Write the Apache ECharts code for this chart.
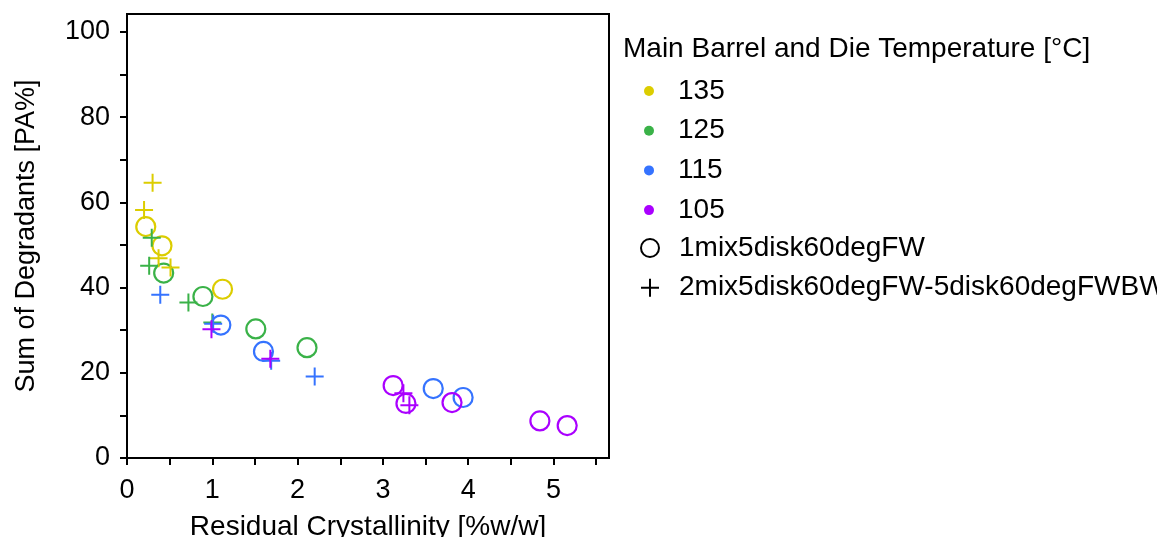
<!DOCTYPE html>
<html>
<head>
<meta charset="utf-8">
<script src="https://cdn.jsdelivr.net/npm/echarts@6/dist/echarts.min.js"></script>
<style>
  html, body { margin: 0; padding: 0; background: #fff; }
  #chart { width: 1157px; height: 537px; }
</style>
</head>
<body>
<div id="chart"></div>
<script>
// Temperature groups (°C) and their colours
const temperatures = ['135', '125', '115', '105'];
const tempColors = ['#dccd00', '#3ab248', '#3573ff', '#aa00ff'];

// Screw configurations
const configNames = ['1mix5disk60degFW', '2mix5disk60degFW-5disk60degFWBW'];

// [Residual Crystallinity %w/w, Sum of Degradants PA%] per temperature, config 1 (open circles)
const circles135 = [[0.22, 54.3], [0.41, 49.8], [1.12, 39.6]];
const circles125 = [[0.43, 43.4], [0.89, 37.9], [1.51, 30.3], [2.11, 25.9]];
const circles115 = [[1.10, 31.2], [1.60, 25.0], [3.59, 16.3], [3.94, 14.2]];
const circles105 = [[3.12, 17.0], [3.27, 12.8], [3.81, 13.0], [4.84, 8.7], [5.16, 7.6]];

// Same, config 2 (crosses)
const plus135 = [[0.30, 64.6], [0.20, 58.2], [0.37, 46.9], [0.51, 44.7]];
const plus125 = [[0.29, 51.7], [0.26, 45.1], [0.72, 36.5], [1.00, 31.8]];
const plus115 = [[0.39, 38.3], [1.01, 31.5], [1.69, 22.8], [2.20, 19.1]];
const plus105 = [[0.99, 30.2], [1.68, 23.3], [3.24, 15.2], [3.31, 12.4]];

// Axis ticks and labels
const xTicks = [0, 0.5, 1, 1.5, 2, 2.5, 3, 3.5, 4, 4.5, 5, 5.5];
const xLabels = [0, 1, 2, 3, 4, 5];
const yTicks = [0, 10, 20, 30, 40, 50, 60, 70, 80, 90, 100];
const yLabels = [0, 20, 40, 60, 80, 100];

const FONT = 'Liberation Sans, Arial, sans-serif';
const FS = 27;
const LEGEND_FS = 28;
const PLUS = 'path://M8,0H10V8H18V10H10V18H8V10H0V8H8Z';

const circleSets = [circles135, circles125, circles115, circles105];
const plusSets = [plus135, plus125, plus115, plus105];

const series = [];
temperatures.forEach((t, i) => {
  series.push({
    name: t,
    type: 'scatter',
    data: circleSets[i],
    symbol: 'circle',
    symbolSize: 19,
    itemStyle: { color: 'rgba(0,0,0,0)', borderColor: tempColors[i], borderWidth: 2.2, opacity: 1 },
    emphasis: { disabled: true }
  });
});
temperatures.forEach((t, i) => {
  series.push({
    name: t,
    type: 'scatter',
    data: plusSets[i],
    symbol: PLUS,
    symbolSize: 18,
    itemStyle: { color: tempColors[i], opacity: 1 },
    emphasis: { disabled: true }
  });
});
// legend-only entries for the two configurations
configNames.forEach((n) => {
  series.push({ name: n, type: 'scatter', data: [], itemStyle: { color: '#000', opacity: 1 } });
});

const axisCommon = {
  axisLine: { show: true, onZero: false, lineStyle: { color: '#000', width: 2 } },
  splitLine: { show: false },
  nameTextStyle: { color: '#000', fontSize: 28, fontFamily: FONT },
  axisLabel: { color: '#000', fontSize: FS, fontFamily: FONT }
};

const option = {
  animation: false,
  backgroundColor: '#fff',
  grid: {
    left: 127, right: 548, top: 14, bottom: 79,
    outerBoundsMode: 'none',
    containLabel: false,
    show: true, borderColor: '#000', borderWidth: 2, backgroundColor: 'transparent'
  },
  title: {
    text: 'Main Barrel and Die Temperature [°C]',
    left: 618, top: 30,
    textStyle: { color: '#000', fontSize: LEGEND_FS, fontWeight: 'normal', fontFamily: FONT }
  },
  legend: [
    {
      orient: 'vertical',
      left: 639, top: 72,
      itemWidth: 10, itemHeight: 10,
      itemGap: 11.7,
      selectedMode: false,
      textStyle: { color: '#000', fontSize: LEGEND_FS, fontFamily: FONT, lineHeight: 26, padding: [0, 0, 0, 19] },
      data: temperatures.map((t, i) => ({ name: t, icon: 'circle', itemStyle: { color: tempColors[i], borderWidth: 0, opacity: 1 } }))
    },
    {
      orient: 'vertical',
      left: 635, top: 229,
      itemWidth: 18, itemHeight: 18,
      itemGap: 11.7,
      selectedMode: false,
      textStyle: { color: '#000', fontSize: LEGEND_FS, fontFamily: FONT, lineHeight: 26, padding: [0, 0, 0, 15] },
      data: [
        { name: configNames[0], icon: 'circle', itemStyle: { color: 'rgba(0,0,0,0)', borderColor: '#000', borderWidth: 2, opacity: 1 } },
        { name: configNames[1], icon: PLUS, itemStyle: { color: '#000', borderWidth: 0, opacity: 1 } }
      ]
    }
  ],
  xAxis: Object.assign({}, axisCommon, {
    type: 'value',
    min: 0, max: 5.65,
    name: 'Residual Crystallinity [%w/w]',
    nameLocation: 'middle',
    nameGap: 55,
    axisTick: { show: true, inside: false, length: 7, customValues: xTicks, lineStyle: { color: '#000', width: 2 } },
    axisLabel: Object.assign({}, axisCommon.axisLabel, { margin: 19, customValues: xLabels })
  }),
  yAxis: Object.assign({}, axisCommon, {
    type: 'value',
    min: 0, max: 104.2,
    name: 'Sum of Degradants [PA%]',
    nameLocation: 'middle',
    nameGap: 87,
    nameRotate: 90,
    nameTextStyle: { color: '#000', fontSize: FS, fontFamily: FONT },
    axisTick: { show: true, inside: false, length: 7, customValues: yTicks, lineStyle: { color: '#000', width: 2 } },
    axisLabel: Object.assign({}, axisCommon.axisLabel, { margin: 17, customValues: yLabels })
  }),
  series: series
};

const chart = echarts.init(document.getElementById('chart'), null, { renderer: 'canvas' });
chart.setOption(option);
</script>
</body>
</html>
